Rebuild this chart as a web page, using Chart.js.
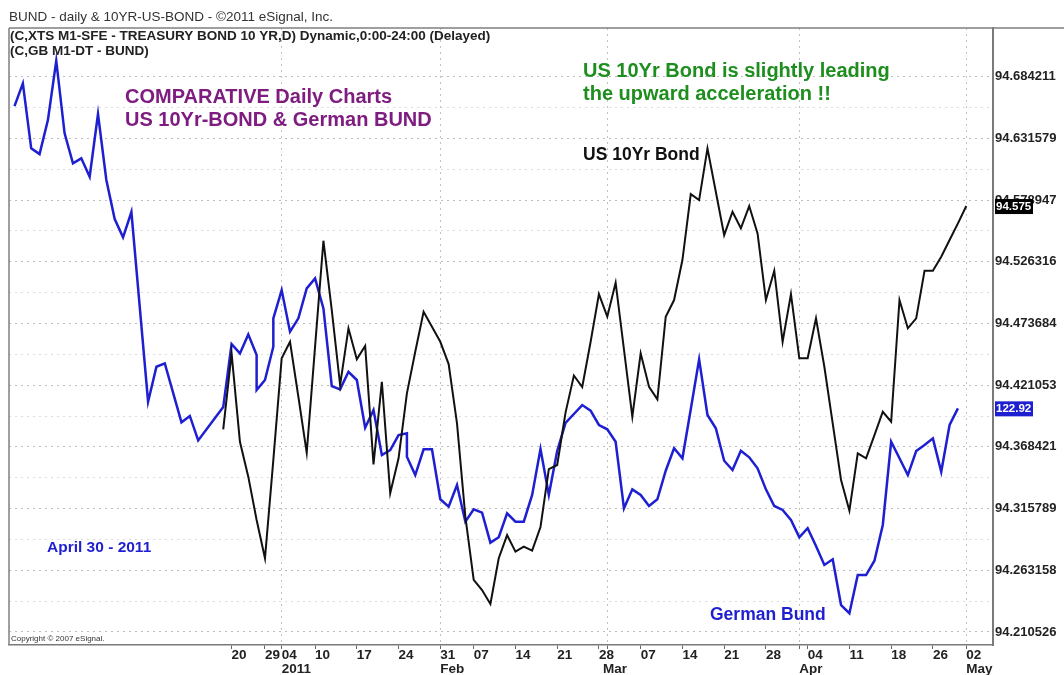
<!DOCTYPE html>
<html>
<head>
<meta charset="utf-8">
<title>BUND - daily & 10YR-US-BOND</title>
<script src="https://cdn.jsdelivr.net/npm/chart.js@4.4.1/dist/chart.umd.min.js"></script>
<style>
  html, body { margin: 0; padding: 0; background: #fff; }
  canvas { display: block; }
</style>
</head>
<body>
<canvas id="chart" width="1064" height="675"></canvas>
<script>
// x = trading day number (0 = first Bund bar shown), y = price on the right scale
const bundDays = [0, 1, 2, 3, 4, 5, 6, 7, 8, 9, 10, 11, 12, 13, 14, 16, 17, 18, 20, 21, 22, 25, 26, 27, 28, 29, 29, 30, 31, 31,
    32, 33, 34, 35, 36, 37, 38, 39, 40, 41, 42, 43, 44, 45, 46, 47, 47, 48, 49, 50, 51, 52, 53, 54, 55, 56, 57, 58, 59, 60,
    61, 62, 63, 64, 65, 66, 67, 68, 69, 70, 71, 72, 73, 74, 75, 76, 77, 78, 79, 80, 81, 82, 83, 84, 85, 86, 87, 88, 89, 90,
    91, 92, 93, 94, 95, 96, 97, 98, 99, 100, 101, 102, 103, 104, 105, 106, 107, 108, 109, 110, 111, 112, 113];
const bundValues = [94.6592, 94.6785, 94.6231, 94.6182, 94.6472, 94.6978, 94.6359, 94.6103, 94.6146, 94.5989,
    94.6524, 94.5961, 94.5628, 94.5472, 94.5688, 94.4070, 94.4368, 94.4397, 94.3894, 94.3948,
    94.3739, 94.4024, 94.4562, 94.4482, 94.4644, 94.4468, 94.4169, 94.4255, 94.4539, 94.4781,
    94.5022, 94.4667, 94.4781, 94.5037, 94.5122, 94.4866, 94.4203, 94.4175, 94.4325, 94.4255,
    94.3848, 94.3999, 94.3615, 94.3657, 94.3785, 94.3800, 94.3600, 94.3444, 94.3663, 94.3663,
    94.3237, 94.3174, 94.3359, 94.3046, 94.3152, 94.3123, 94.2867, 94.2913, 94.3118, 94.3046,
    94.3046, 94.3274, 94.3666, 94.3274, 94.3649, 94.3888, 94.3965, 94.4041, 94.3993, 94.3871,
    94.3834, 94.3728, 94.3160, 94.3322, 94.3274, 94.3180, 94.3237, 94.3481, 94.3672, 94.3587,
    94.4005, 94.4431, 94.3956, 94.3843, 94.3566, 94.3487, 94.3652, 94.3595, 94.3501, 94.3322,
    94.3180, 94.3146, 94.3060, 94.2913, 94.2990, 94.2839, 94.2677, 94.2725, 94.2335, 94.2265,
    94.2591, 94.2591, 94.2713, 94.3018, 94.3728, 94.3587, 94.3444, 94.3649, 94.3700, 94.3757,
    94.3472, 94.3871, 94.4013];

const usDays = [25, 26, 27, 28, 29, 30, 31, 32, 33, 34, 35, 36, 37, 38, 39, 40, 41, 42, 43, 44, 45, 46, 47, 48, 49, 50,
    51, 52, 53, 54, 55, 56, 57, 58, 59, 60, 61, 62, 63, 64, 65, 66, 67, 68, 69, 70, 71, 72, 74, 75, 76, 77, 78, 79, 80,
    81, 82, 83, 84, 85, 86, 87, 88, 89, 90, 91, 92, 93, 94, 95, 96, 97, 98, 99, 100, 101, 102, 103, 104, 105, 106, 107,
    108, 109, 110, 111, 112, 113, 114];
const usValues = [94.3834, 94.4482, 94.3728, 94.3430, 94.3060, 94.2734, 94.3572, 94.4440, 94.4581, 94.4112,
    94.3634, 94.4539, 94.5443, 94.4852, 94.4212, 94.4696, 94.4431, 94.4545, 94.3535, 94.4240,
    94.3288, 94.3587, 94.4141, 94.4496, 94.4837, 94.4709, 94.4581, 94.4391, 94.3885, 94.3089,
    94.2549, 94.2463, 94.2344, 94.2734, 94.2932, 94.2790, 94.2833, 94.2799, 94.3001, 94.3495,
    94.3530, 94.3977, 94.4293, 94.4195, 94.4579, 94.4988, 94.4795, 94.5085, 94.3942, 94.4482,
    94.4197, 94.4090, 94.4795, 94.4937, 94.5278, 94.5841, 94.5790, 94.6231, 94.5861, 94.5491,
    94.5690, 94.5549, 94.5739, 94.5506, 94.4937, 94.5187, 94.4581, 94.4988, 94.4440, 94.4440,
    94.4781, 94.4368, 94.3885, 94.3402, 94.3140, 94.3629, 94.3587, 94.3785, 94.3984, 94.3899,
    94.4937, 94.4696, 94.4781, 94.5187, 94.5187, 94.5306, 94.5449, 94.5591, 94.5739];

const priceTicks = [94.210526, 94.263158, 94.315789, 94.368421, 94.421053,
    94.473684, 94.526316, 94.578947, 94.631579, 94.684211];
const priceTickLabels = ['94.210526', '94.263158', '94.315789', '94.368421', '94.421053',
    '94.473684', '94.526316', '94.578947', '94.631579', '94.684211'];

const dayTickPos = [26, 30, 32, 36, 41, 46, 51, 55, 60, 65, 70, 75, 80, 85, 90, 95, 100, 105, 110, 114];
const dayTickLabels = ['20', '29', '04', '10', '17', '24', '31', '07', '14', '21',
    '28', '07', '14', '21', '28', '04', '11', '18', '26', '02'];
const monthTickPos = [32, 51, 70.5, 94, 114];
const monthTickLabels = ['2011', 'Feb', 'Mar', 'Apr', 'May'];
const monthLinePos = [32, 51, 71, 94, 114];

const usLastLabel = '94.575';
const bundLastLabel = '122.92';

const BLUE = '#1f1fd2';
const FONT = "'Liberation Sans', Arial, sans-serif";
Chart.defaults.font.family = FONT;

const X_MIN = -0.66;
const X_MAX = 117.2;
const Y_MIN = 94.1994;
const Y_MAX = 94.7258;

const xTickValues = [...new Set([...dayTickPos, ...monthTickPos, ...monthLinePos])].sort((a, b) => a - b);

function xLabel(value) {
    const d = dayTickPos.indexOf(value);
    const m = monthTickPos.indexOf(value);
    const day = d >= 0 ? dayTickLabels[d] : '';
    const month = m >= 0 ? monthTickLabels[m] : '';
    if (!day && !month) return '';
    return [day, month];
}

const frameAndText = {
    id: 'frameAndText',
    afterDraw(chart) {
        const { ctx, chartArea: a } = chart;
        const y = chart.scales.y;
        ctx.save();

        ctx.strokeStyle = '#808080';
        ctx.lineWidth = 1.5;
        ctx.beginPath();
        ctx.moveTo(a.left, a.top);
        ctx.lineTo(chart.width, a.top);
        ctx.moveTo(a.left, a.top);
        ctx.lineTo(a.left, a.bottom);
        ctx.stroke();

        ctx.textBaseline = 'middle';
        ctx.textAlign = 'left';
        ctx.fillStyle = '#333';
        ctx.font = `13.5px ${FONT}`;
        ctx.fillText('BUND - daily & 10YR-US-BOND - \u00a92011 eSignal, Inc.', 9, 17);
        ctx.fillStyle = '#222';
        ctx.font = `bold 13.5px ${FONT}`;
        ctx.fillText('(C,XTS M1-SFE - TREASURY BOND 10 YR,D) Dynamic,0:00-24:00 (Delayed)', 10, 36);
        ctx.fillText('(C,GB M1-DT - BUND)', 10, 51);

        ctx.textBaseline = 'alphabetic';
        ctx.font = `bold 20px ${FONT}`;
        ctx.fillStyle = '#7e1c80';
        ctx.fillText('COMPARATIVE Daily Charts', 125, 103);
        ctx.fillText('US 10Yr-BOND & German BUND', 125, 126);
        ctx.fillStyle = '#1e8e1e';
        ctx.fillText('US 10Yr Bond is slightly leading', 583, 77);
        ctx.fillText('the upward acceleration !!', 583, 100);

        ctx.font = `bold 17.5px ${FONT}`;
        ctx.fillStyle = '#111';
        ctx.fillText('US 10Yr Bond', 583, 160);
        ctx.fillStyle = BLUE;
        ctx.fillText('German Bund', 710, 620);
        ctx.font = `bold 15.5px ${FONT}`;
        ctx.fillText('April 30 - 2011', 47, 552);

        ctx.fillStyle = '#333';
        ctx.font = `8px ${FONT}`;
        ctx.fillText('Copyright \u00a9 2007 eSignal.', 11, 641);

        // last value boxes on the price scale
        ctx.font = `bold 11.5px ${FONT}`;
        ctx.textBaseline = 'middle';
        const usY = y.getPixelForValue(usValues[usValues.length - 1]);
        ctx.fillStyle = '#000';
        ctx.fillRect(a.right + 2, usY - 7, 38, 15);
        ctx.fillStyle = '#fff';
        ctx.fillText(usLastLabel, a.right + 3, usY + 0.5);
        const bundY = y.getPixelForValue(bundValues[bundValues.length - 1]);
        ctx.fillStyle = BLUE;
        ctx.fillRect(a.right + 2, bundY - 7, 38, 15);
        ctx.fillStyle = '#fff';
        ctx.fillText(bundLastLabel, a.right + 3, bundY + 0.5);

        ctx.restore();
    }
};

new Chart(document.getElementById('chart'), {
    type: 'line',
    data: {
        datasets: [{
            label: 'US 10Yr Bond',
            data: usDays.map((d, i) => ({ x: d, y: usValues[i] })),
            borderColor: '#111',
            borderWidth: 2,
            pointRadius: 0,
            tension: 0
        }, {
            label: 'German Bund',
            data: bundDays.map((d, i) => ({ x: d, y: bundValues[i] })),
            borderColor: BLUE,
            borderWidth: 2.5,
            pointRadius: 0,
            tension: 0
        }]
    },
    options: {
        responsive: false,
        animation: false,
        layout: { padding: { left: 9, top: 28, right: 0, bottom: 0 } },
        plugins: {
            legend: { display: false },
            tooltip: { enabled: false }
        },
        scales: {
            x: {
                type: 'linear',
                min: X_MIN,
                max: X_MAX,
                afterBuildTicks(scale) {
                    scale.ticks = xTickValues.map(v => ({ value: v }));
                },
                afterFit(scale) { scale.height = 30; },
                ticks: {
                    autoSkip: false,
                    maxRotation: 0,
                    minRotation: 0,
                    align: 'start',
                    padding: 0,
                    color: '#222',
                    font: { size: 13.5, weight: 'bold', lineHeight: 1.0 },
                    callback: value => xLabel(value)
                },
                grid: {
                    color: ctx => ctx.tick && monthLinePos.includes(ctx.tick.value) ? '#c2c2c2' : 'rgba(0,0,0,0)',
                    tickColor: ctx => ctx.tick && dayTickPos.concat(monthLinePos).includes(ctx.tick.value) ? '#666' : 'rgba(0,0,0,0)',
                    tickLength: 4,
                    lineWidth: 1
                },
                border: { display: true, color: '#7a7a7a', width: 1.5, dash: [2, 4] }
            },
            y: {
                type: 'linear',
                position: 'right',
                min: Y_MIN,
                max: Y_MAX,
                afterBuildTicks(scale) {
                    const t = [];
                    priceTicks.forEach((v, i) => {
                        t.push({ value: v });
                        if (i < priceTicks.length - 1) t.push({ value: (v + priceTicks[i + 1]) / 2 });
                    });
                    scale.ticks = t;
                },
                afterFit(scale) { scale.width = 71; },
                ticks: {
                    padding: 2,
                    color: '#222',
                    font: { size: 13, weight: 'bold' },
                    callback: (value, index) => index % 2 === 0 ? priceTickLabels[index / 2] : ''
                },
                grid: {
                    drawTicks: false,
                    color: ctx => ctx.index % 2 === 0 ? '#bdbdbd' : '#dcdcdc'
                },
                border: { display: true, color: '#7a7a7a', width: 2, dash: [2, 4] }
            }
        }
    },
    plugins: [frameAndText]
});
</script>
</body>
</html>
